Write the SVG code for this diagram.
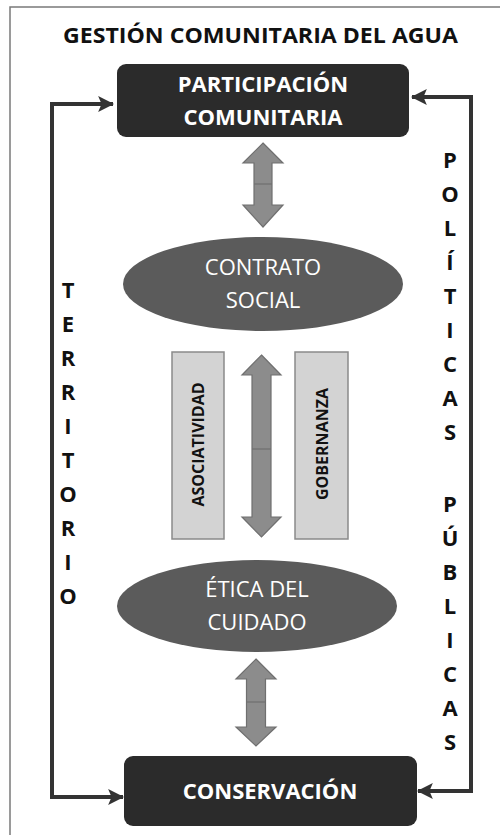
<svg xmlns="http://www.w3.org/2000/svg" width="500" height="835" viewBox="0 0 500 835">
<style>
  .t{font-family:"Open Sans","Liberation Sans",sans-serif;}
  .b{font-weight:bold;}
  .box{fill:#2b2b2b;}
  .ell{fill:#5b5b5b;}
  .wt{fill:#ffffff;text-anchor:middle;}
  .blk{fill:#111111;text-anchor:middle;}
  .rect{fill:#d3d3d3;stroke:#8a8a8a;stroke-width:1.5;}
  .darrow{fill:#8c8c8c;stroke:#6f6f6f;stroke-width:1.2;}
  .mid{stroke:#6f6f6f;stroke-width:1.2;}
  .conn{fill:none;stroke:#333333;stroke-width:4;}
  .frame{fill:none;stroke:#7a7a7a;stroke-width:1.5;}
</style>
<defs>
  <marker id="ah" markerUnits="userSpaceOnUse" markerWidth="16" markerHeight="16" refX="13" refY="7" orient="auto-start-reverse" viewBox="0 0 14 14">
    <path d="M0,0 L14,7 L0,14 L3,7 Z" fill="#333333"/>
  </marker>
</defs>

<path class="frame" d="M500,7 L10,7 L10,835"/>

<text id="title" class="t b blk" x="260.5" y="43" font-size="22" textLength="395" lengthAdjust="spacingAndGlyphs">GESTIÓN COMUNITARIA DEL AGUA</text>

<g id="connectors">
  <path class="conn" d="M113,104 L52,104 L52,797 L123,797" marker-start="url(#ah)" marker-end="url(#ah)"/>
  <path class="conn" d="M412,97 L471,97 L471,791 L418,791" marker-start="url(#ah)" marker-end="url(#ah)"/>
  <g id="arrow-top">
    <path class="darrow" d="M263,143 L283,163 L272,163 L272,205 L283,205 L263,227 L243,205 L254,205 L254,163 L243,163 Z"/>
    <line class="mid" x1="254" y1="184" x2="272" y2="184"/>
  </g>
  <g id="arrow-middle">
    <path class="darrow" d="M261.5,355 L281,375 L271,375 L271,517 L281,517 L261.5,537 L242,517 L252,517 L252,375 L242,375 Z"/>
    <line class="mid" x1="252" y1="449" x2="271" y2="449"/>
  </g>
  <g id="arrow-bottom">
    <path class="darrow" d="M256,659 L276,679 L265.5,679 L265.5,727 L276,727 L256,746 L236,727 L246.5,727 L246.5,679 L236,679 Z"/>
    <line class="mid" x1="246.5" y1="702" x2="265.5" y2="702"/>
  </g>
</g>

<g id="participacion">
  <rect class="box" x="117" y="64" width="292" height="73" rx="9"/>
  <text class="t b wt" x="263" y="92" font-size="22">PARTICIPACIÓN</text>
  <text class="t b wt" x="263" y="125" font-size="22">COMUNITARIA</text>
</g>

<g id="contrato">
  <ellipse class="ell" cx="263" cy="284" rx="140" ry="47"/>
  <text class="t wt" x="263" y="275" font-size="22">CONTRATO</text>
  <text class="t wt" x="263" y="308" font-size="22">SOCIAL</text>
</g>

<g id="asociatividad">
  <rect class="rect" x="172" y="352" width="52" height="187"/>
  <text class="t b blk" font-size="16" transform="translate(204,444.5) rotate(-90)">ASOCIATIVIDAD</text>
</g>

<g id="gobernanza">
  <rect class="rect" x="295" y="352" width="53" height="187"/>
  <text class="t b blk" font-size="16" transform="translate(328,444) rotate(-90)">GOBERNANZA</text>
</g>

<g id="etica">
  <ellipse class="ell" cx="257" cy="606" rx="140" ry="46"/>
  <text class="t wt" x="257" y="597" font-size="22">ÉTICA DEL</text>
  <text class="t wt" x="257" y="630" font-size="22">CUIDADO</text>
</g>

<g id="conservacion">
  <rect class="box" x="124" y="756" width="293" height="70" rx="9"/>
  <text class="t b wt" x="270" y="799" font-size="22">CONSERVACIÓN</text>
</g>

<g id="territorio" class="t b blk" font-size="22">
  <text x="68" y="298">T</text>
  <text x="68" y="332">E</text>
  <text x="68" y="366">R</text>
  <text x="68" y="400">R</text>
  <text x="68" y="434">I</text>
  <text x="68" y="468">T</text>
  <text x="68" y="502">O</text>
  <text x="68" y="536">R</text>
  <text x="68" y="570">I</text>
  <text x="68" y="604">O</text>
</g>

<g id="politicas" class="t b blk" font-size="22">
  <text x="450" y="168">P</text>
  <text x="450" y="202">O</text>
  <text x="450" y="236">L</text>
  <text x="450" y="270">Í</text>
  <text x="450" y="304">T</text>
  <text x="450" y="338">I</text>
  <text x="450" y="372">C</text>
  <text x="450" y="406">A</text>
  <text x="450" y="440">S</text>
  <text x="450" y="512">P</text>
  <text x="450" y="546">Ú</text>
  <text x="450" y="580">B</text>
  <text x="450" y="614">L</text>
  <text x="450" y="648">I</text>
  <text x="450" y="682">C</text>
  <text x="450" y="716">A</text>
  <text x="450" y="750">S</text>
</g>
</svg>
